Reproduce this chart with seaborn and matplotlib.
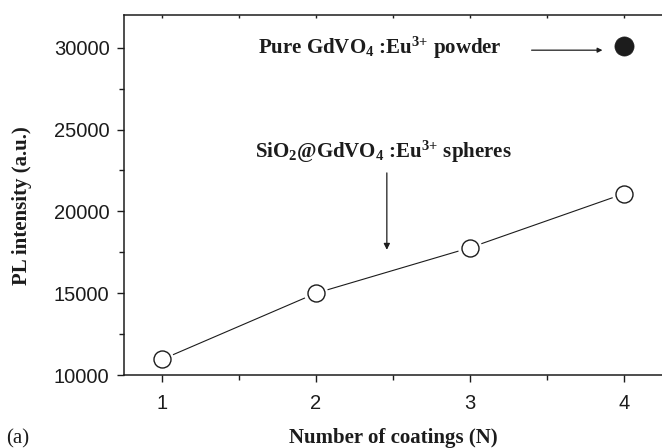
import matplotlib
matplotlib.use("Agg")
import matplotlib.pyplot as plt
from matplotlib.ticker import MultipleLocator
import seaborn as sns
import pandas as pd

# PL intensity of the core-shell spheres vs. number of coatings
coatings = [1, 2, 3, 4]
intensity = [10950, 15000, 17780, 21080]

# reference: pure powder
powder_n = [4]
powder_intensity = [30100]

x_ticks = [1, 2, 3, 4]
y_ticks = [10000, 15000, 20000, 25000, 30000]

sns.set_theme(style="ticks")
plt.rcParams["font.family"] = ["Liberation Sans", "DejaVu Sans"]
plt.rcParams["mathtext.fontset"] = "custom"
plt.rcParams["mathtext.rm"] = "Liberation Serif:bold"
plt.rcParams["mathtext.it"] = "Liberation Serif:bold"
plt.rcParams["mathtext.bf"] = "Liberation Serif:bold"
plt.rcParams["mathtext.default"] = "rm"

ink = "#1c1c1c"
serif = ["Liberation Serif", "DejaVu Serif"]

df = pd.DataFrame({"N": coatings, "I": intensity})
dfp = pd.DataFrame({"N": powder_n, "I": powder_intensity})

fig = plt.figure(figsize=(6.62, 4.48), dpi=100)
ax = fig.add_axes([123.5 / 662, (448 - 375) / 448, 539 / 662, 360 / 448])

sns.lineplot(data=df, x="N", y="I", ax=ax, color=ink, lw=0.8, zorder=2)
# white halo so the line stops short of each marker
sns.scatterplot(data=df, x="N", y="I", ax=ax, s=300, color="white",
                edgecolor="none", linewidth=0, zorder=3)
sns.scatterplot(data=df, x="N", y="I", ax=ax, s=150, facecolor="white",
                edgecolor=ink, linewidth=1.0, zorder=4)
sns.scatterplot(data=dfp, x="N", y="I", ax=ax, s=190, color=ink,
                edgecolor=ink, linewidth=0.5, zorder=4)

ax.set_xlim(0.75, 4.25)
ax.set_ylim(10000, 32000)
ax.set_xticks(x_ticks)
ax.set_yticks(y_ticks)
ax.xaxis.set_minor_locator(MultipleLocator(0.5))
ax.yaxis.set_minor_locator(MultipleLocator(2500))

for s in ax.spines.values():
    s.set_color(ink)
    s.set_linewidth(1.1)

ax.tick_params(axis="both", which="major", direction="out", length=5,
               width=1.0, color=ink, labelsize=14.5, labelcolor=ink)
ax.tick_params(axis="both", which="minor", direction="out", length=3.5,
               width=1.0, color=ink)
ax.tick_params(axis="x", which="major", pad=9)
ax.tick_params(axis="y", which="major", pad=5)
ax.tick_params(axis="x", which="both", top=True)

# top-axis ticks point inwards
for t in ax.xaxis.get_major_ticks() + ax.xaxis.get_minor_ticks():
    t.tick2line.set_marker(3)  # TICKDOWN
    t.tick2line.set_markersize(2)
    t.tick2line.set_color("#888888")

ax.set_xlabel("Number of coatings (N)", fontsize=15, fontweight="bold",
              family=serif, color=ink)
ax.set_ylabel("PL intensity (a.u.)", fontsize=15, fontweight="bold",
              family=serif, color=ink)
ax.xaxis.set_label_coords(0.5, -0.148)
ax.yaxis.set_label_coords(-0.170, 0.47)

ax.text(1.625, 29600, r"Pure GdVO$_4$ :Eu$^{3\!+}\,$powder", fontsize=15,
        fontweight="bold", family=serif, color=ink, va="baseline")
ax.text(1.605, 23290, r"SiO$_2$@GdVO$_4$ :Eu$^{3\!+}\,$spheres", fontsize=15,
        fontweight="bold", family=serif, color=ink, va="baseline")

ax.annotate("", xy=(3.86, 29850), xytext=(3.40, 29850),
            arrowprops=dict(arrowstyle="-|>", color=ink, lw=0.9,
                            mutation_scale=7, shrinkA=0, shrinkB=0))
ax.annotate("", xy=(2.46, 17650), xytext=(2.46, 22350),
            arrowprops=dict(arrowstyle="-|>", color=ink, lw=0.9,
                            mutation_scale=9, shrinkA=0, shrinkB=0))

fig.text(0.01, 0.01, "(a)", fontsize=15, family=serif, color=ink)

fig.savefig("out.png", dpi=100)
